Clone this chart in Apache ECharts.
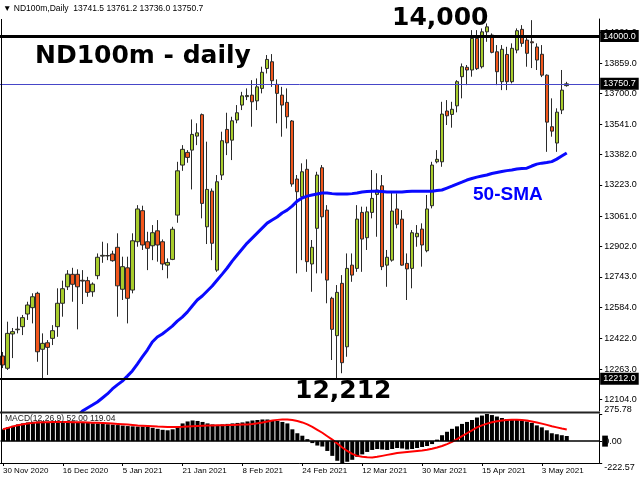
<!DOCTYPE html>
<html>
<head>
<meta charset="utf-8">
<script src="https://cdn.jsdelivr.net/npm/echarts@6/dist/echarts.min.js"></script>
<style>
html,body{margin:0;padding:0;background:#fff;}
#chart{width:640px;height:480px;}
</style>
</head>
<body>
<div id="chart"></div>
<script>
// ---- data ----
const opens  = [12331,12267,12446,12468,12484,12550,12583,12658,12366,12400,12423,12484,12606,12692,12757,12757,12726,12724,12666,12750,12852,12855,12863,12898,12679,12791,12675,12927,13089,12927,12906,12984,12927,12805,12835,13066,13327,13393,13405,13478,13590,13005,13191,12779,13275,13513,13457,13562,13640,13684,13692,13662,13727,13831,13866,13748,13692,13654,13557,13254,13162,13305,12811,12997,13313,13092,12632,12437,12710,12379,12805,12788,13080,12948,13080,13174,13219,12805,12831,13098,13045,12814,12788,12953,12993,12880,13115,13344,13344,13609,13591,13636,13788,13837,13823,13988,13840,14022,14005,13918,13762,13904,13762,13927,14035,13979,13970,13943,13905,13796,13527,13442,13614,13741.5];
const closes = [12284,12449,12458,12471,12531,12597,12640,12353,12397,12376,12463,12606,12682,12758,12705,12692,12722,12663,12706,12846,12856,12853,12828,12697,12797,12632,12932,13098,12910,12893,12974,12910,12811,12819,12992,13297,13409,13367,13487,13495,13127,13200,12919,13240,13454,13443,13558,13600,13688,13690,13657,13735,13811,13878,13767,13701,13640,13579,13228,13188,13292,12823,12898,13275,13057,12727,12470,12663,12296,12788,12753,13045,12941,13083,13153,13197,12797,12846,13087,13018,12805,12785,12974,12971,12910,13098,13327,13357,13593,13584,13618,13762,13840,13823,13988,13830,14022,14048,13915,13814,13931,13762,13936,14028,13962,13910,13965,13875,13796,13551,13504,13603,13718,13750.7];
const lows   = [12268,12258,12320,12449,12440,12519,12501,12301,12214,12232,12388,12431,12536,12675,12614,12470,12602,12640,12640,12731,12817,12831,12823,12536,12623,12501,12658,12901,12884,12779,12831,12823,12779,12736,12831,13026,13297,13339,13200,13431,13049,12915,12831,12770,13249,13379,13353,13545,13614,13666,13527,13614,13701,13805,13735,13545,13475,13518,13214,12762,12831,12770,12666,12762,12762,12606,12310,12214,12241,12327,12718,12770,12770,12884,13049,12953,12779,12692,12823,12997,12802,12623,12684,12901,12797,12872,13101,13336,13318,13536,13522,13602,13675,13744,13788,13823,13831,13970,13910,13744,13718,13718,13753,13910,13944,13840,13833,13823,13786,13396,13475,13396,13593,13736.0];
const highs  = [12352,12510,12477,12536,12545,12614,12658,12666,12449,12414,12492,12684,12724,12779,12791,12783,12779,12744,12715,12866,12927,12919,12880,12971,12849,12849,12971,13118,13115,12979,13014,13040,12939,12840,13005,13344,13431,13405,13565,13545,13596,13449,13205,13275,13501,13600,13579,13640,13709,13727,13770,13779,13840,13901,13906,13774,13735,13727,13562,13275,13336,13357,12936,13292,13327,13118,12640,12701,12753,12866,12866,13118,13110,13110,13301,13284,13275,12884,13188,13179,13092,12866,12988,13014,13023,13171,13344,13405,13657,13666,13657,13770,13857,13849,14031,14031,14040,14066,14014,13953,13953,13944,13962,14040,14057,14005,14083,13962,13953,13800,13675,13623,13823,13761.2];
const sma50  = [null,null,null,null,null,null,null,null,null,null,null,null,null,null,11992,12018,12044,12060,12075,12091,12112,12133,12159,12180,12200,12226,12253,12289,12326,12362,12404,12430,12446,12466,12487,12513,12534,12560,12592,12623,12644,12670,12696,12727,12758,12790,12826,12858,12889,12920,12946,12972,12998,13024,13040,13056,13077,13092,13113,13139,13155,13165,13171,13176,13181,13181,13178,13176,13176,13176,13178,13181,13186,13189,13191,13191,13189,13186,13186,13186,13186,13189,13191,13191,13191,13191,13191,13194,13197,13207,13217,13228,13238,13249,13257,13264,13270,13275,13283,13288,13293,13298,13301,13306,13309,13311,13322,13332,13337,13340,13345,13358,13374,13390];
const macdMain = [120,140,155,170,180,190,195,200,200,195,195,195,200,200,200,195,190,185,182,180,178,172,168,163,158,153,150,148,148,145,135,125,115,110,120,150,180,200,210,205,195,180,170,165,170,175,180,185,190,200,210,215,220,220,215,205,195,180,120,80,55,20,-20,-45,-55,-100,-150,-200,-222.57,-210,-190,-160,-135,-110,-90,-80,-85,-90,-80,-70,-75,-85,-80,-70,-60,-50,-30,15,60,95,125,150,175,195,215,240,260,275.78,265,250,235,225,220,215,210,200,185,160,140,110,80,70,60,52];
const macdSignal = [120,135,150,162,172,180,186,190,192,193,194,194,194,194,193,192,191,190,188,186,184,181,178,175,172,168,164,160,157,154,151,148,146,144,143,143,145,148,151,154,157,159,160,161,162,163,165,167,169,170,175,182,190,200,210,216,220,220,215,205,190,170,145,115,85,50,15,-25,-65,-100,-130,-150,-160,-165,-166,-160,-150,-140,-130,-122,-115,-110,-105,-100,-95,-88,-78,-65,-50,-30,-8,20,50,80,110,140,160,178,192,203,210,215,218,218,215,210,200,190,178,165,152,140,128,119.04];
const priceTicks = [14021,13859,13700,13541,13382,13223,13061,12902,12743,12584,12422,12263,12104];
const macdTicks = [275.78, 0, -222.57];
const dateTickIndex = [0,12,24,36,48,60,72,84,96,108];
const dateTickLabels = ['30 Nov 2020','16 Dec 2020','5 Jan 2021','21 Jan 2021','8 Feb 2021','24 Feb 2021','12 Mar 2021','30 Mar 2021','15 Apr 2021','3 May 2021'];
const levelLines = [14000, 12212];
const lastPrice = 13750.7;
const priceRange = [12044, 14089];
const macdRange = [-222.57, 275.78];

// ---- build ----
const SLOTS = 120;
const slots = Array.from({length: SLOTS}, (_, i) => String(i));
const candles = opens.map((o, i) => [o, closes[i], lows[i], highs[i]]);
const FONT = '"Liberation Sans", Arial, sans-serif';
const HEAVY = '"DejaVu Sans", Verdana, sans-serif';

const chart = echarts.init(document.getElementById('chart'), null, {renderer: 'canvas'});
chart.setOption({
  animation: false,
  backgroundColor: '#ffffff',
  grid: [
    {left: -0.8, width: 600, top: 19, height: 392},
    {left: -0.8, width: 600, top: 414, height: 49}
  ],
  xAxis: [
    {type: 'category', gridIndex: 0, data: slots, boundaryGap: true,
     axisLine: {show: false}, axisTick: {show: false}, axisLabel: {show: false}, splitLine: {show: false}},
    {type: 'category', gridIndex: 1, data: slots, boundaryGap: true,
     axisLine: {show: true, onZero: false, lineStyle: {color: '#000', width: 1}},
     axisTick: {show: true, alignWithLabel: true, length: 3, lineStyle: {color: '#000'},
                interval: (idx) => dateTickIndex.indexOf(idx) >= 0},
     axisLabel: {show: true, align: 'left', margin: 4, color: '#000', fontSize: 8, fontFamily: FONT,
                 interval: (idx) => dateTickIndex.indexOf(idx) >= 0,
                 formatter: (v, idx) => { const k = dateTickIndex.indexOf(idx); return k >= 0 ? dateTickLabels[k] : ''; }},
     splitLine: {show: false}}
  ],
  yAxis: [
    {type: 'value', gridIndex: 0, position: 'right', min: priceRange[0], max: priceRange[1], scale: true,
     axisLine: {show: true, lineStyle: {color: '#000', width: 1}},
     axisTick: {show: true, inside: false, length: 3, customValues: priceTicks, lineStyle: {color: '#000'}},
     axisLabel: {show: true, customValues: priceTicks, formatter: (v) => v.toFixed(1), color: '#000',
                 fontSize: 9, fontFamily: FONT, margin: 5},
     splitLine: {show: false}},
    {type: 'value', gridIndex: 1, position: 'right', min: macdRange[0], max: macdRange[1],
     axisLine: {show: true, lineStyle: {color: '#000', width: 1}},
     axisTick: {show: true, length: 3, customValues: macdTicks, lineStyle: {color: '#000'}},
     axisLabel: {show: true, customValues: macdTicks, formatter: (v) => v.toFixed(2), color: '#000',
                 fontSize: 9, fontFamily: FONT, margin: 5,
                 verticalAlignMaxLabel: 'top', verticalAlignMinLabel: 'bottom'},
     splitLine: {show: false}}
  ],
  series: [
    {type: 'candlestick', name: 'ND100m', xAxisIndex: 0, yAxisIndex: 0, data: candles, barWidth: 4,
     itemStyle: {color: '#a8cc2c', color0: '#f2571c', borderColor: '#2a2a2a', borderColor0: '#2a2a2a', borderWidth: 1},
     markLine: {silent: true, symbol: 'none', animation: false,
       data: [
         {yAxis: levelLines[0], lineStyle: {color: '#000', width: 3, type: 'solid'},
          label: {show: true, position: 'end', distance: 1, formatter: levelLines[0].toFixed(1), color: '#fff', backgroundColor: '#000',
                  padding: [2, 3, 1, 3], fontSize: 9, fontFamily: FONT}},
         {yAxis: lastPrice, lineStyle: {color: '#4646c8', width: 1, type: 'solid'},
          label: {show: true, position: 'end', distance: 1, formatter: lastPrice.toFixed(1), color: '#fff', backgroundColor: '#000',
                  padding: [2, 3, 1, 3], fontSize: 9, fontFamily: FONT}},
         {yAxis: levelLines[1], lineStyle: {color: '#000', width: 2, type: 'solid'},
          label: {show: true, position: 'end', distance: 1, formatter: levelLines[1].toFixed(1), color: '#fff', backgroundColor: '#000',
                  padding: [2, 3, 1, 3], fontSize: 9, fontFamily: FONT}}
       ]}},
    {type: 'line', name: '50-SMA', xAxisIndex: 0, yAxisIndex: 0, data: sma50, symbol: 'none', smooth: false,
     connectNulls: false, clip: true, lineStyle: {color: '#0a0aff', width: 3}, z: 3},
    {type: 'bar', name: 'MACD', xAxisIndex: 1, yAxisIndex: 1, data: macdMain, barWidth: 4,
     itemStyle: {color: '#000'},
     markLine: {silent: true, symbol: 'none', animation: false,
       data: [{yAxis: 0, lineStyle: {color: '#000', width: 1.5, type: 'solid'},
               label: {show: true, position: 'end', distance: 3, formatter: ' ', backgroundColor: '#000', padding: [3, 2, 2, 2], fontSize: 6}}]}},
    {type: 'line', name: 'Signal', xAxisIndex: 1, yAxisIndex: 1, data: macdSignal, symbol: 'none',
     lineStyle: {color: '#ff0000', width: 2}, z: 3}
  ],
  graphic: [
    {type: 'text', left: 3, top: 4, z: 101, style: {text: '▼ ND100m,Daily  13741.5 13761.2 13736.0 13750.7', font: '8.5px ' + FONT, fill: '#000'}},
    {type: 'line', shape: {x1: 1.5, y1: 19, x2: 1.5, y2: 464}, style: {stroke: '#000', lineWidth: 1}, z: 50},
    {type: 'line', shape: {x1: 0, y1: 412.5, x2: 600, y2: 412.5}, style: {stroke: '#222', lineWidth: 2}, z: 50},
    {type: 'text', left: 35, top: 44, z: 60, style: {text: 'ND100m - daily', font: 'bold 25px ' + HEAVY, fill: '#000'}},
    {type: 'text', left: 392, top: 6, z: 60, style: {text: '14,000', font: 'bold 25px ' + HEAVY, fill: '#000'}},
    {type: 'text', left: 295, top: 379, z: 60, style: {text: '12,212', font: 'bold 25px ' + HEAVY, fill: '#000'}},
    {type: 'text', left: 473, top: 185, z: 60, style: {text: '50-SMA', font: 'bold 19px ' + FONT, fill: '#0000ff'}},
    {type: 'text', left: 5, top: 414, z: 60, style: {text: 'MACD(12,26,9) 52.00 119.04', font: '8.5px ' + FONT, fill: '#222'}}
  ]
});
</script>
</body>
</html>
